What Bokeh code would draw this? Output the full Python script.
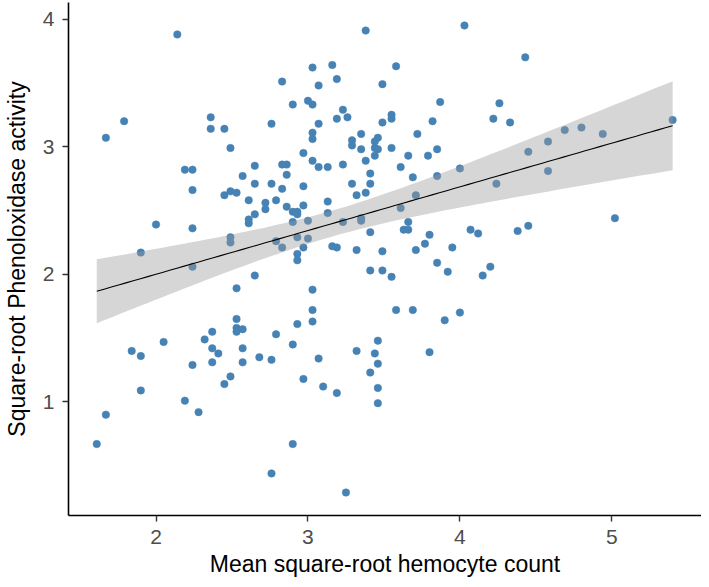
import numpy as np
from bokeh.plotting import figure
from bokeh.models import Range1d, FixedTicker, ColumnDataSource
from bokeh.embed import file_html
from bokeh.resources import INLINE

# Mean square-root hemocyte count
hemocyte = [
    2.14, 1.79, 1.67, 2.36, 2.36, 2.45, 2.76, 2.49, 2.19, 2.24, 2.65, 2.57,
    3.38, 4.03, 3.03, 3.16, 3.58, 2.83, 3.07, 3.19, 3.49, 3.87, 2.90, 3.00,
    3.03, 3.23, 3.19, 3.26, 3.55, 3.55, 3.49, 3.82, 3.07, 3.03, 3.03, 3.35,
    3.29, 3.29, 3.72, 3.46, 3.44, 3.44, 3.46, 3.35, 3.55, 3.85, 2.97, 3.44,
    3.66, 3.79, 3.03, 2.83, 2.86, 3.07, 3.13, 3.23, 3.38, 3.61, 2.86, 3.41,
    3.69, 3.85, 4.00, 4.43, 4.26, 4.22, 4.33, 5.40, 4.69, 4.80, 4.94, 4.58,
    4.45, 4.58, 2.24, 2.45, 2.49, 2.53, 2.65, 2.76, 2.61, 2.72, 2.79, 2.72,
    2.65, 2.61, 2.61, 2.00, 2.24, 2.49, 2.49, 2.79, 1.90, 2.24, 2.65, 2.53,
    2.53, 2.53, 2.53, 2.57, 2.37, 2.32, 2.05, 2.79, 1.84, 1.90, 2.37, 2.41,
    2.57, 2.68, 2.76, 2.83, 2.97, 3.29, 3.41, 2.86, 2.90, 2.93, 2.93, 2.97,
    3.13, 3.13, 3.32, 3.38, 3.71, 3.61, 2.90, 3.00, 3.23, 3.35, 3.35, 3.41,
    3.66, 3.63, 3.66, 3.80, 4.07, 4.12, 2.93, 3.00, 2.83, 2.97, 3.16, 3.19,
    2.93, 2.93, 3.32, 3.49, 3.71, 3.77, 3.95, 3.85, 3.92, 3.41, 3.49, 3.55,
    4.15, 3.03, 3.03, 3.03, 2.93, 3.58, 3.69, 3.90, 4.00, 2.90, 3.46, 3.32,
    3.44, 3.80, 3.07, 3.46, 3.41, 2.97, 3.10, 3.19, 3.46, 3.46, 2.90, 2.76,
    3.25, 2.24, 2.37, 2.57, 1.90, 1.67, 1.61, 2.19, 2.28, 2.45, 2.49, 4.24,
    4.38, 4.45, 5.02, 4.20,
]

# Square-root Phenoloxidase activity
phenoloxidase = [
    3.88, 3.20, 3.07, 3.23, 3.14, 3.14, 3.18, 2.99, 2.82, 2.82, 2.85, 2.77,
    3.91, 3.95, 3.62, 3.64, 3.63, 3.51, 3.48, 3.53, 3.49, 3.35, 3.33, 3.36,
    3.33, 3.29, 3.22, 3.23, 3.25, 3.22, 3.19, 3.20, 3.18, 3.11, 3.06, 3.10,
    3.05, 3.01, 3.10, 3.07, 3.04, 2.99, 2.98, 2.98, 2.99, 2.98, 2.95, 2.93,
    2.93, 2.93, 2.89, 2.86, 2.86, 2.84, 2.84, 2.86, 2.89, 2.84, 2.78, 2.79,
    2.76, 2.77, 2.83, 3.70, 3.34, 3.22, 3.19, 3.21, 3.13, 3.15, 3.10, 3.04,
    2.96, 2.81, 2.66, 2.62, 2.65, 2.64, 2.71, 2.71, 2.58, 2.56, 2.58, 2.51,
    2.47, 2.43, 2.40, 2.39, 2.36, 2.29, 2.25, 2.26, 2.17, 2.06, 1.99, 1.89,
    1.65, 1.58, 1.55, 1.57, 1.55, 1.49, 1.47, 1.53, 1.40, 1.36, 1.42, 1.38,
    1.42, 1.35, 1.33, 2.67, 2.69, 2.71, 2.71, 2.53, 2.49, 2.49, 2.47, 2.54,
    2.57, 2.48, 2.62, 2.64, 2.62, 2.52, 2.41, 2.42, 2.41, 2.44, 2.42, 2.33,
    2.41, 2.35, 2.35, 2.31, 2.35, 2.32, 2.29, 2.28, 2.21, 2.21, 2.22, 2.21,
    2.16, 2.11, 2.19, 2.18, 2.19, 2.24, 2.21, 2.09, 2.02, 2.03, 2.03, 1.98,
    1.99, 1.88, 1.72, 1.63, 1.61, 1.72, 1.72, 1.64, 1.70, 1.45, 1.48, 1.40,
    1.38, 1.39, 1.34, 1.30, 1.23, 1.18, 1.12, 1.07, 1.11, 0.99, 0.67, 0.44,
    0.29, 1.29, 1.31, 1.31, 1.09, 0.90, 0.67, 1.01, 0.92, 1.14, 1.20, 2.71,
    2.34, 2.38, 2.44, 2.06,
]

x_ticks = [2, 3, 4, 5]
y_ticks = [1, 2, 3, 4]

# Linear fit with 95% confidence band (as geom_smooth(method = "lm"))
x = np.array(hemocyte)
y = np.array(phenoloxidase)
n = len(x)
slope, intercept = np.polyfit(x, y, 1)
resid = y - (intercept + slope * x)
s = np.sqrt(np.sum(resid ** 2) / (n - 2))
sxx = np.sum((x - x.mean()) ** 2)
t_crit = 1.972
xs = np.linspace(x.min(), x.max(), 80)
fit = intercept + slope * xs
se = s * np.sqrt(1.0 / n + (xs - x.mean()) ** 2 / sxx)
fit_src = ColumnDataSource(dict(x=xs, fit=fit, lo=fit - t_crit * se, hi=fit + t_crit * se))

p = figure(
    width=701, height=579,
    output_backend="svg", toolbar_location=None,
    x_range=Range1d(1.424, 5.59), y_range=Range1d(0.11, 4.13),
    min_border_top=2, min_border_right=0, min_border_bottom=0,
)

p.scatter(hemocyte, phenoloxidase, size=7.5, fill_color="#4682B4",
          line_color="#4682B4", line_width=0.5)
p.varea(x="x", y1="lo", y2="hi", source=fit_src, fill_color="#999999", fill_alpha=0.4)
p.line(x="x", y="fit", source=fit_src, line_color="black", line_width=1.1)

p.xgrid.visible = False
p.ygrid.visible = False
p.outline_line_color = None
p.background_fill_color = "white"
p.border_fill_color = "white"

p.xaxis.ticker = FixedTicker(ticks=x_ticks)
p.yaxis.ticker = FixedTicker(ticks=y_ticks)
p.xaxis.axis_label = "Mean square-root hemocyte count"
p.yaxis.axis_label = "Square-root Phenoloxidase activity"

for ax in (p.xaxis, p.yaxis):
    ax.axis_line_color = "black"
    ax.axis_line_width = 1.6
    ax.major_tick_line_color = "#333333"
    ax.major_tick_line_width = 1.4
    ax.major_tick_out = 6
    ax.major_tick_in = 0
    ax.minor_tick_line_color = None
    ax.major_label_text_font = "Liberation Sans"
    ax.major_label_text_font_size = "21px"
    ax.major_label_text_color = "#4D4D4D"
    ax.axis_label_text_font = "Liberation Sans"
    ax.axis_label_text_font_size = "23px"
    ax.axis_label_text_font_style = "normal"
    ax.axis_label_text_color = "black"

p.xaxis.major_label_standoff = 8
p.xaxis.axis_label_standoff = 4
p.yaxis.major_label_standoff = 8
p.yaxis.axis_label_standoff = 10

open("out.html", "w").write(file_html(p, INLINE))
